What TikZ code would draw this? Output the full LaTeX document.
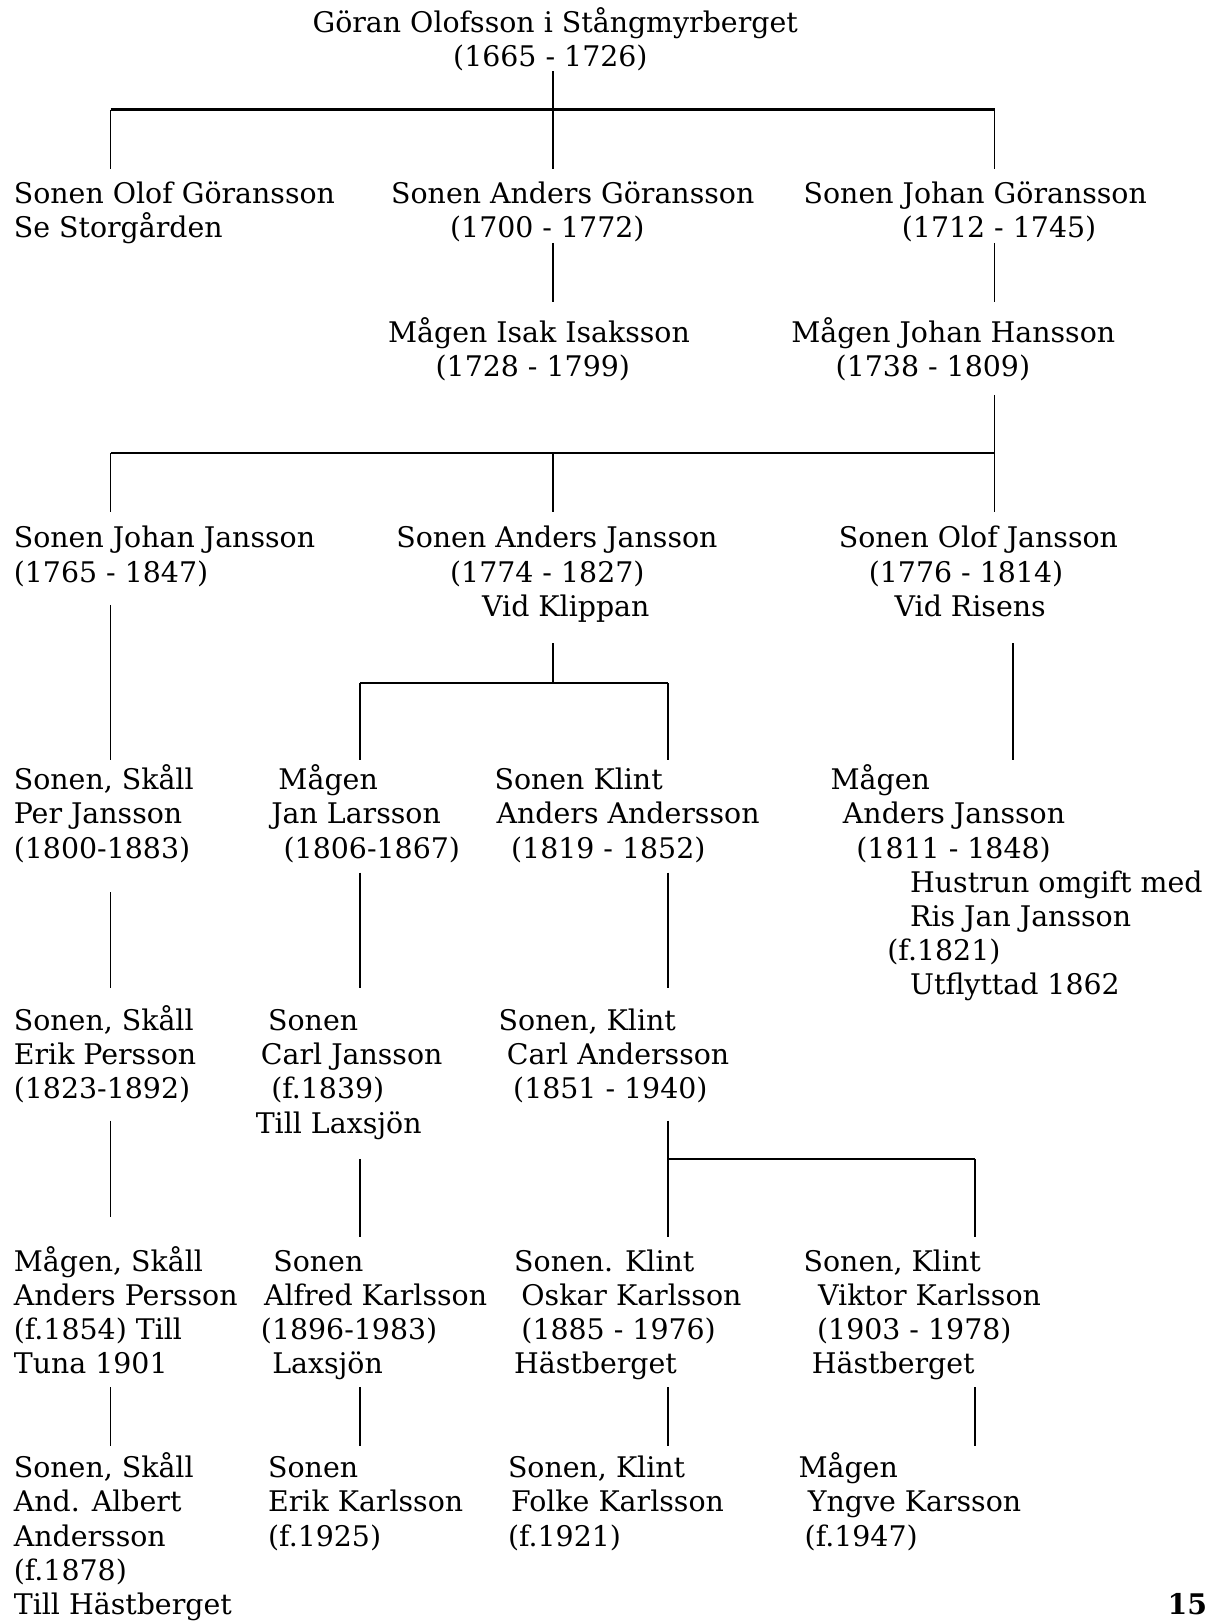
\documentclass[tikz,border=0pt]{standalone}
\usepackage{fontspec}
\setmainfont{DejaVu Serif}
\newcommand\tx[4]{\node[txt] (#1) at (#2,#3) {#4};}
\begin{document}
\begin{tikzpicture}[x=0.5167pt,y=-0.5167pt,
  txt/.style={anchor=base west, inner sep=0pt, font=\fontsize{14.2pt}{17pt}\selectfont},
  conn/.style={line width=0.75pt},
  bar/.style={line width=1.1pt}]
\useasboundingbox (0,0) rectangle (1168,1568);
% Row 0
\tx{r0a}{302}{31}{Göran Olofsson i Stångmyrberget}
\tx{r0b}{438}{64}{(1665 - 1726)}
% Row 1
\tx{olof1}{13}{197}{Sonen Olof Göransson}
\tx{olof2}{13}{230}{Se Storgården}
\tx{andg1}{378}{197}{Sonen Anders Göransson}
\tx{andg2}{435}{230}{(1700 - 1772)}
\tx{johg1}{777}{197}{Sonen Johan Göransson}
\tx{johg2}{872}{230}{(1712 - 1745)}
% Row 2
\tx{isak1}{375}{331}{Mågen Isak Isaksson}
\tx{isak2}{421}{364}{(1728 - 1799)}
\tx{joh1}{765}{331}{Mågen Johan Hansson}
\tx{joh2}{808}{364}{(1738 - 1809)}
% Row 3
\tx{jj1}{13}{530}{Sonen Johan Jansson}
\tx{jj2}{13}{563}{(1765 - 1847)}
\tx{aj1}{383}{530}{Sonen Anders Jansson}
\tx{aj2}{435}{563}{(1774 - 1827)}
\tx{aj3}{466}{596}{Vid Klippan}
\tx{oj1}{811}{530}{Sonen Olof Jansson}
\tx{oj2}{840}{563}{(1776 - 1814)}
\tx{oj3}{865}{596}{Vid Risens}
% Row 4
\tx{pj1}{13}{764}{Sonen, Skåll}
\tx{pj2}{13}{797}{Per Jansson}
\tx{pj3}{13}{830}{(1800-1883)}
\tx{jl1}{269}{764}{Mågen}
\tx{jl2}{262}{797}{Jan Larsson}
\tx{jl3}{274}{830}{(1806-1867)}
\tx{aa1}{478}{764}{Sonen Klint}
\tx{aa2}{480}{797}{Anders Andersson}
\tx{aa3}{494}{830}{(1819 - 1852)}
\tx{anj1}{803}{764}{Mågen}
\tx{anj2}{815}{797}{Anders Jansson}
\tx{anj3}{828}{830}{(1811 - 1848)}
\tx{anj4}{880}{863}{Hustrun omgift med}
\tx{anj5}{880}{896}{Ris Jan Jansson}
\tx{anj6}{858}{929}{(f.1821)}
\tx{anj7}{880}{962}{Utflyttad 1862}
% Row 5
\tx{ep1}{13}{997}{Sonen, Skåll}
\tx{ep2}{13}{1030}{Erik Persson}
\tx{ep3}{13}{1063}{(1823-1892)}
\tx{cj1}{259}{997}{Sonen}
\tx{cj2}{252}{1030}{Carl Jansson}
\tx{cj3}{262}{1063}{(f.1839)}
\tx{cj4}{247}{1096}{Till Laxsjön}
\tx{ca1}{482}{997}{Sonen, Klint}
\tx{ca2}{490}{1030}{Carl Andersson}
\tx{ca3}{496}{1063}{(1851 - 1940)}
% Row 6
\tx{ap1}{13}{1230}{Mågen, Skåll}
\tx{ap2}{13}{1263}{Anders Persson}
\tx{ap3}{13}{1296}{(f.1854) Till}
\tx{ap4}{13}{1329}{Tuna 1901}
\tx{ak1}{264}{1230}{Sonen}
\tx{ak2}{255}{1263}{Alfred Karlsson}
\tx{ak3}{252}{1296}{(1896-1983)}
\tx{ak4}{263}{1329}{Laxsjön}
\tx{ok1}{497}{1230}{Sonen. Klint}
\tx{ok2}{504}{1263}{Oskar Karlsson}
\tx{ok3}{504}{1296}{(1885 - 1976)}
\tx{ok4}{497}{1329}{Hästberget}
\tx{vk1}{777}{1230}{Sonen, Klint}
\tx{vk2}{791}{1263}{Viktor Karlsson}
\tx{vk3}{790}{1296}{(1903 - 1978)}
\tx{vk4}{785}{1329}{Hästberget}
% Row 7
\tx{ab1}{13}{1429}{Sonen, Skåll}
\tx{ab2}{13}{1462}{And. Albert}
\tx{ab3}{13}{1496}{Andersson}
\tx{ab4}{13}{1529}{(f.1878)}
\tx{ab5}{13}{1562}{Till Hästberget}
\tx{ek1}{259}{1429}{Sonen}
\tx{ek2}{259}{1462}{Erik Karlsson}
\tx{ek3}{259}{1496}{(f.1925)}
\tx{fk1}{491}{1429}{Sonen, Klint}
\tx{fk2}{494}{1462}{Folke Karlsson}
\tx{fk3}{491}{1496}{(f.1921)}
\tx{yk1}{772}{1429}{Mågen}
\tx{yk2}{781}{1462}{Yngve Karsson}
\tx{yk3}{778}{1496}{(f.1947)}
\node[txt, font=\fontsize{14.2pt}{17pt}\selectfont\bfseries] (pg) at (1129,1562) {15};
% Connectors
\coordinate (a0) at (535,69);
\coordinate (a1) at (535,106);
\coordinate (a2) at (535,163);
\coordinate (l1) at (107,106);
\coordinate (l2) at (107,163);
\coordinate (r1) at (962,106);
\coordinate (r2) at (962,163);
\draw[conn] (a0) -- (a2);
\draw[bar] (l1) -- (r1);
\draw[conn] (l1) -- (l2);
\draw[conn] (r1) -- (r2);
\coordinate (b1) at (535,235);
\coordinate (b2) at (535,292);
\coordinate (c1) at (962,235);
\coordinate (c2) at (962,292);
\draw[conn] (b1) -- (b2);
\draw[conn] (c1) -- (c2);
\coordinate (d0) at (962,382);
\coordinate (d1) at (962,438);
\coordinate (d2) at (962,495);
\coordinate (e1) at (107,438);
\coordinate (e2) at (107,495);
\coordinate (f1) at (535,438);
\coordinate (f2) at (535,495);
\draw[conn] (d0) -- (d2);
\draw[bar] (e1) -- (d1);
\draw[conn] (e1) -- (e2);
\draw[conn] (f1) -- (f2);
\coordinate (g1) at (107,585);
\coordinate (g2) at (107,735);
\draw[conn] (g1) -- (g2);
\coordinate (h0) at (535,622);
\coordinate (h1) at (535,661);
\coordinate (i1) at (348,661);
\coordinate (i2) at (348,735);
\coordinate (k1) at (646,661);
\coordinate (k2) at (646,735);
\draw[conn] (h0) -- (h1);
\draw[bar] (i1) -- (k1);
\draw[conn] (i1) -- (i2);
\draw[conn] (k1) -- (k2);
\coordinate (m1) at (980,622);
\coordinate (m2) at (980,735);
\draw[conn] (m1) -- (m2);
\coordinate (n1) at (107,863);
\coordinate (n2) at (107,956);
\coordinate (o1) at (348,844);
\coordinate (o2) at (348,956);
\coordinate (p1) at (646,844);
\coordinate (p2) at (646,956);
\draw[conn] (n1) -- (n2);
\draw[conn] (o1) -- (o2);
\draw[conn] (p1) -- (p2);
\coordinate (q1) at (107,1084);
\coordinate (q2) at (107,1177);
\coordinate (s1) at (348,1121);
\coordinate (s2) at (348,1197);
\coordinate (t0) at (646,1084);
\coordinate (t1) at (646,1121);
\coordinate (t2) at (646,1197);
\coordinate (u1) at (943,1121);
\coordinate (u2) at (943,1197);
\draw[conn] (q1) -- (q2);
\draw[conn] (s1) -- (s2);
\draw[conn] (t0) -- (t2);
\draw[bar] (t1) -- (u1);
\draw[conn] (u1) -- (u2);
\coordinate (w1) at (107,1342);
\coordinate (w2) at (107,1399);
\coordinate (x1) at (348,1342);
\coordinate (x2) at (348,1399);
\coordinate (y1) at (646,1342);
\coordinate (y2) at (646,1399);
\coordinate (z1) at (943,1342);
\coordinate (z2) at (943,1399);
\draw[conn] (w1) -- (w2);
\draw[conn] (x1) -- (x2);
\draw[conn] (y1) -- (y2);
\draw[conn] (z1) -- (z2);
\end{tikzpicture}
\end{document}
